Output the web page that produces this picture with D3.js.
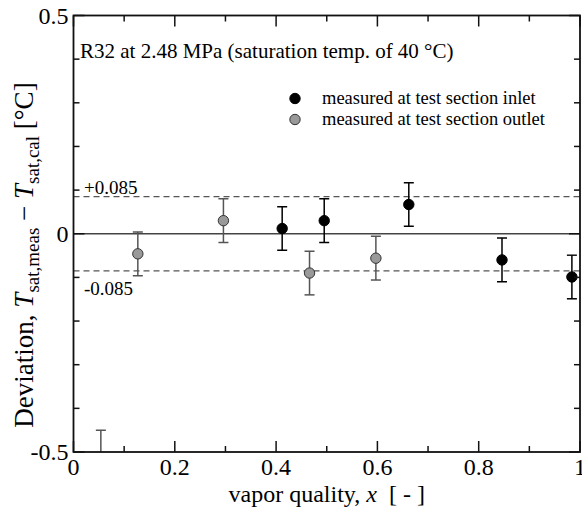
<!DOCTYPE html>
<html><head><meta charset="utf-8">
<script src="https://cdn.jsdelivr.net/npm/d3@7"></script>
<style>body{margin:0;background:#fff}svg{display:block}text{font-family:"Liberation Serif","Times New Roman","DejaVu Serif",serif}</style>
</head><body><svg id="c" width="582" height="517" font-family="Liberation Serif, Times New Roman, serif"></svg>
<script>
// data
const inletX = [0.412, 0.495, 0.662, 0.846, 0.984];
const inletY = [0.012, 0.030, 0.067, -0.060, -0.099];
const outletX = [0.054, 0.127, 0.296, 0.466, 0.597];
const outletY = [-0.515, -0.046, 0.030, -0.090, -0.056];
const errInlet = [0.05, 0.05, 0.05, 0.05, 0.05];
const errOutlet = [0.065, 0.05, 0.05, 0.05, 0.05];
const band = 0.085;
const xTickLabels = ["0", "0.2", "0.4", "0.6", "0.8", "1"];
const yTickLabels = ["-0.5", "0", "0.5"];

const svg = d3.select("#c");
const L = 73.5, R = 580, T = 15.5, B = 452;
const x = d3.scaleLinear().domain([0, 1]).range([L, R]);
const y = d3.scaleLinear().domain([-0.5, 0.5]).range([B, T]);

svg.append("defs").append("clipPath").attr("id", "clip")
  .append("rect").attr("x", L).attr("y", T).attr("width", R - L).attr("height", B - T);

const g = svg.append("g").attr("clip-path", "url(#clip)");
g.append("line").attr("x1", L).attr("x2", R).attr("y1", y(0)).attr("y2", y(0))
  .attr("stroke", "#444").attr("stroke-width", 1.5);
[band, -band].forEach(v => g.append("line").attr("x1", L).attr("x2", R).attr("y1", y(v)).attr("y2", y(v))
  .attr("stroke", "#555").attr("stroke-width", 1.3).attr("stroke-dasharray", "6,4"));

function series(xs, ys, es, fill, stroke, barColor) {
  const d = xs.map((v, i) => ({x: v, y: ys[i], e: es[i]}));
  const eb = g.append("g");
  d.forEach(p => {
    const cx = x(p.x);
    eb.append("line").attr("x1", cx).attr("x2", cx).attr("y1", y(p.y - p.e)).attr("y2", y(p.y + p.e))
      .attr("stroke", barColor).attr("stroke-width", 1.5);
    [p.y - p.e, p.y + p.e].forEach(v => eb.append("line").attr("x1", cx - 5).attr("x2", cx + 5)
      .attr("y1", y(v)).attr("y2", y(v)).attr("stroke", barColor).attr("stroke-width", 1.5));
  });
  g.append("g").selectAll("circle").data(d).join("circle")
    .attr("cx", p => x(p.x)).attr("cy", p => y(p.y)).attr("r", 5.2)
    .attr("fill", fill).attr("stroke", stroke).attr("stroke-width", 1);
}
series(outletX, outletY, errOutlet, "#999", "#333", "#555");
series(inletX, inletY, errInlet, "#000", "#000", "#000");

svg.append("rect").attr("x", L).attr("y", T).attr("width", R - L).attr("height", B - T)
  .attr("fill", "none").attr("stroke", "#111").attr("stroke-width", 1.8);

const xt = d3.range(0, 1.0001, 0.1);
xt.forEach((v, i) => {
  const len = i % 2 === 0 ? 11 : 6;
  svg.append("line").attr("x1", x(v)).attr("x2", x(v)).attr("y1", B).attr("y2", B - len).attr("stroke", "#111").attr("stroke-width", 1.5);
  svg.append("line").attr("x1", x(v)).attr("x2", x(v)).attr("y1", T).attr("y2", T + len).attr("stroke", "#111").attr("stroke-width", 1.5);
});
const yt = d3.range(-0.5, 0.5001, 0.1);
yt.forEach(v => {
  const major = Math.abs(v) < 1e-9 || Math.abs(Math.abs(v) - 0.5) < 1e-9;
  const len = major ? 11 : 6;
  svg.append("line").attr("x1", L).attr("x2", L + len).attr("y1", y(v)).attr("y2", y(v)).attr("stroke", "#111").attr("stroke-width", 1.5);
  svg.append("line").attr("x1", R).attr("x2", R - len).attr("y1", y(v)).attr("y2", y(v)).attr("stroke", "#111").attr("stroke-width", 1.5);
});

const fs = 24;
xTickLabels.forEach((t, i) => svg.append("text").attr("x", x(i * 0.2)).attr("y", B + 23)
  .attr("text-anchor", "middle").attr("font-size", fs).text(t));
yTickLabels.forEach((t, i) => svg.append("text").attr("x", L - 5).attr("y", y(-0.5 + i * 0.5) + 8)
  .attr("text-anchor", "end").attr("font-size", fs).text(t));

const xl = svg.append("text").attr("x", (L + R) / 2).attr("y", 502).attr("text-anchor", "middle").attr("font-size", 24);
xl.append("tspan").text("vapor quality, ");
xl.append("tspan").attr("font-style", "italic").text("x");
xl.append("tspan").text("\u00A0\u00A0[ - ]");

const yl = svg.append("text").attr("transform", `translate(33,255) rotate(-90)`)
  .attr("text-anchor", "middle").attr("font-size", 27);
yl.append("tspan").text("Deviation, ");
yl.append("tspan").attr("font-style", "italic").text("T");
yl.append("tspan").attr("font-size", 19).attr("dy", 6).text("sat,meas");
yl.append("tspan").attr("dy", -6).text(" \u2212 ");
yl.append("tspan").attr("font-style", "italic").text("T");
yl.append("tspan").attr("font-size", 19).attr("dy", 6).text("sat,cal");
yl.append("tspan").attr("dy", -6).text(" [\u00B0C]");

svg.append("text").attr("x", 80).attr("y", 58).attr("font-size", 21).text("R32 at 2.48 MPa (saturation temp. of 40 \u00B0C)");
svg.append("text").attr("x", 84).attr("y", y(band) - 3).attr("font-size", 19).text("+0.085");
svg.append("text").attr("x", 84).attr("y", y(-band) + 24).attr("font-size", 19).text("-0.085");

const legend = [{label: "measured at test section inlet", fill: "#000", stroke: "#000"},
                {label: "measured at test section outlet", fill: "#999", stroke: "#333"}];
legend.forEach((d, i) => {
  const yy = 98.5 + i * 21;
  svg.append("circle").attr("cx", 295).attr("cy", yy).attr("r", 5.2).attr("fill", d.fill).attr("stroke", d.stroke);
  svg.append("text").attr("x", 322).attr("y", yy + 5.5).attr("font-size", 18.5).text(d.label);
});
</script></body></html>
